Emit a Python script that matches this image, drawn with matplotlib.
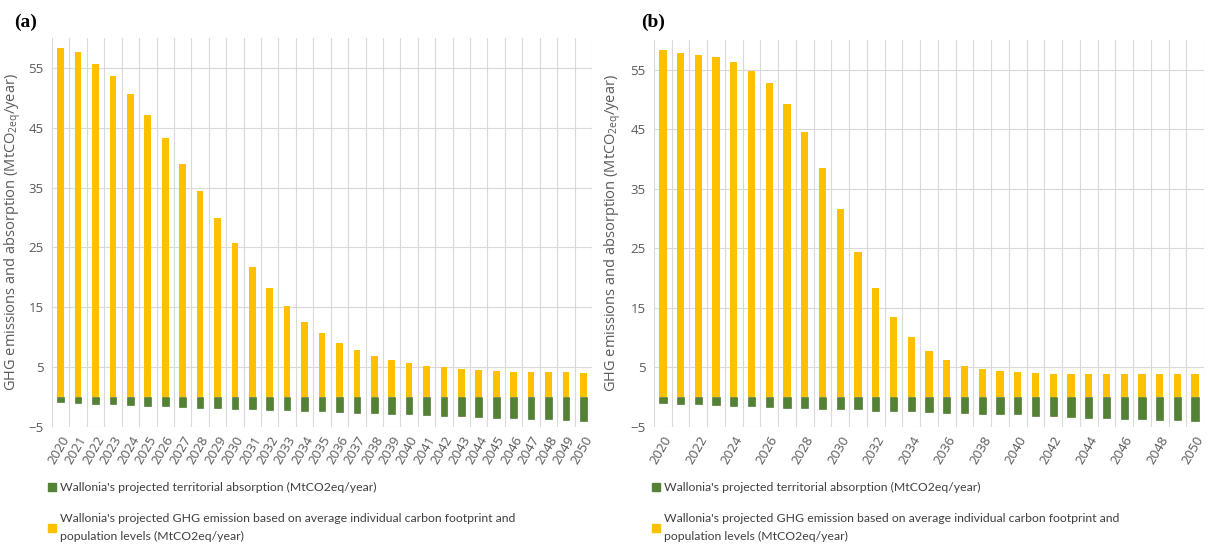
import numpy as np
import matplotlib
matplotlib.use("Agg")
import matplotlib.pyplot as plt
from matplotlib.patches import Patch

years = list(range(2020, 2051))

# panel (a)
emission_a = [58.4, 57.6, 55.6, 53.6, 50.7, 47.1, 43.3, 39.0, 34.4, 30.0,
              25.7, 21.7, 18.2, 15.2, 12.6, 10.7, 9.1, 7.8, 6.9, 6.2,
              5.65, 5.2, 5.0, 4.7, 4.5, 4.35, 4.25, 4.25, 4.15, 4.15, 4.1]
absorption_a = [-0.9, -1.0, -1.1, -1.2, -1.35, -1.5, -1.5, -1.6, -1.75, -1.85,
                -1.95, -2.05, -2.2, -2.2, -2.3, -2.4, -2.5, -2.6, -2.7, -2.85,
                -2.85, -2.95, -3.1, -3.2, -3.3, -3.45, -3.45, -3.6, -3.7, -3.8, -3.95]

# panel (b)
emission_b = [58.35, 57.8, 57.4, 57.1, 56.3, 54.8, 52.7, 49.3, 44.6, 38.5,
              31.6, 24.45, 18.35, 13.5, 10.1, 7.7, 6.25, 5.3, 4.7, 4.4,
              4.2, 4.05, 3.95, 3.9, 3.9, 3.9, 3.9, 3.85, 3.85, 3.85, 3.85]
absorption_b = [-1.0, -1.1, -1.1, -1.25, -1.4, -1.5, -1.6, -1.8, -1.8, -1.9,
                -2.0, -2.05, -2.25, -2.35, -2.35, -2.45, -2.6, -2.7, -2.8, -2.9,
                -2.9, -3.1, -3.2, -3.3, -3.45, -3.5, -3.65, -3.7, -3.8, -3.85, -4.0]

yticks = [-5, 5, 15, 25, 35, 45, 55]

lbl_abs = "Wallonia's projected territorial absorption (MtCO2eq/year)"
lbl_em = ("Wallonia's projected GHG emission based on average individual carbon footprint and\n"
          "population levels (MtCO2eq/year)")

YELLOW = "#FFC000"
GREEN = "#548235"
GRID = "#D9D9D9"
TXT = "#595959"

plt.rcParams['font.family'] = ['Open Sans', 'DejaVu Sans']
plt.rcParams['mathtext.default'] = 'regular'

fig = plt.figure(figsize=(12.1, 5.44), dpi=100)


def draw_panel(rect, emission, absorption, width, step, tag, tagx, legx, labx):
    ax = fig.add_axes(rect)
    x = np.arange(len(years))
    ax.bar(x, emission, width=width, color=YELLOW, zorder=3)
    ax.bar(x, absorption, width=width, color=GREEN, edgecolor="#3f6b27",
           linewidth=0.4, zorder=3)
    ax.set_xlim(-0.5, len(years) - 0.5)
    ax.set_ylim(-5, 60)
    ax.set_yticks(yticks)
    ax.set_xticks(x[::step])
    ax.set_xticklabels([str(y) for y in years[::step]], rotation=60,
                       ha='right', rotation_mode='anchor')
    ax.set_xticks(np.arange(-0.5, len(years)), minor=True)
    ax.tick_params(axis='both', which='both', length=0, colors=TXT,
                   labelsize=9.5)
    ax.tick_params(axis='y', pad=6)
    ax.tick_params(axis='x', pad=5)
    ax.grid(True, axis='y', which='major', color=GRID, linewidth=0.8, zorder=0)
    ax.grid(True, axis='x', which='minor', color=GRID, linewidth=0.8, zorder=0)
    for s in ax.spines.values():
        s.set_visible(False)
    ax.set_ylabel(r"GHG emissions and absorption (MtCO$_{2eq}$/year)",
                  color=TXT, fontsize=10.5)
    ax.yaxis.set_label_coords(labx, 0.5)
    fig.text(tagx, 1 - 22 / 544, tag, family='Liberation Serif',
             fontweight='bold', fontsize=14, va='center')
    handles = [Patch(color=GREEN), Patch(color=YELLOW)]
    leg = ax.legend(handles, [lbl_abs, lbl_em], loc='upper left',
                    bbox_to_anchor=(legx, 1 - 471 / 544),
                    bbox_transform=fig.transFigure,
                    frameon=False, handlelength=0.65, handleheight=0.65,
                    handletextpad=0.3, labelspacing=1.6,
                    prop={'family': 'Lato', 'size': 8.8}, labelcolor='#404040')
    for t in leg.get_texts():
        t.set_linespacing(1.85)
    return ax


draw_panel([52 / 1210, 117 / 544, 540 / 1210, 389 / 544],
           emission_a, absorption_a, 0.38, 1, "(a)", 14 / 1210, 37 / 1210, -0.054)
draw_panel([654 / 1210, 117 / 544, 550 / 1210, 387 / 544],
           emission_b, absorption_b, 0.41, 2, "(b)", 641 / 1210, 641 / 1210, -0.056)

fig.savefig("out.png", dpi=100)
